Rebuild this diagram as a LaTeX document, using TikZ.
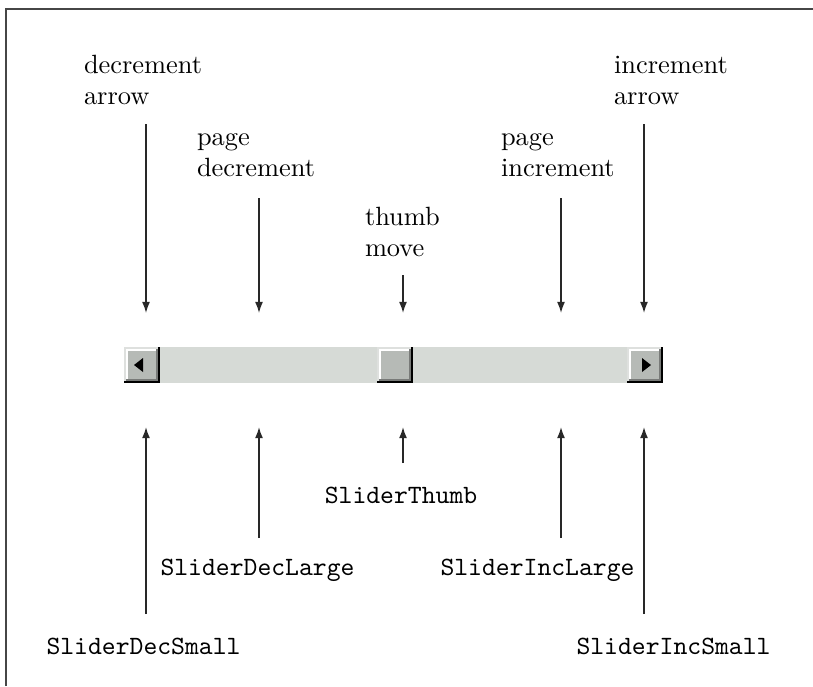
\documentclass[tikz,border=0pt]{standalone}
\usetikzlibrary{arrows.meta}
\definecolor{troughc}{RGB}{214,218,214}
\definecolor{btnface}{RGB}{182,186,182}
\definecolor{btnlight}{RGB}{222,224,222}
\definecolor{btndark}{RGB}{120,122,120}
\definecolor{framec}{RGB}{70,70,70}
\definecolor{arrc}{RGB}{40,40,40}
\begin{document}
\begin{tikzpicture}[x=0.3788pt,y=-0.3788pt,
  lbl/.style={inner sep=0pt,outer sep=0pt,anchor=base west},
  ttlbl/.style={inner sep=0pt,outer sep=0pt,font=\ttfamily},
  arr/.style={draw=arrc,line width=0.55pt,-{Latex[length=4.2pt,width=3pt]}},
  framestyle/.style={draw=framec,line width=0.5pt}]
\useasboundingbox (0,0) rectangle (813,686);
% frame (open at right and bottom)
\draw[framestyle] (6,686) -- (6,9) -- (813,9);

% scrollbar trough
\fill[troughc] (124,347) rectangle (663,383);
% buttons
\foreach \xa in {124,377,627}{
  \fill[black] (\xa,347) rectangle ++(36,36);
  \fill[btnlight] (\xa,347) rectangle ++(33.8,33.8);
  \fill[btndark] (\xa+2.2,349.2) rectangle ++(31.6,31.6);
  \fill[white] (\xa+2.2,349.2) rectangle ++(29.4,29.4);
  \fill[btnface] (\xa+4.4,351.4) rectangle ++(27.2,27.2);
}
\fill[black] (134,365) -- (143,358) -- (143,372) -- cycle;
\fill[black] (651,365) -- (642,358) -- (642,372) -- cycle;

% top labels
\node[lbl] (decarrow) at (84,73) {\begin{tabular}[t]{@{}l@{}}decrement\\arrow\end{tabular}};
\node[lbl] (pagedec) at (197,145) {\begin{tabular}[t]{@{}l@{}}page\\decrement\end{tabular}};
\node[lbl] (thumbmove) at (365,225) {\begin{tabular}[t]{@{}l@{}}thumb\\move\end{tabular}};
\node[lbl] (pageinc) at (501,145) {\begin{tabular}[t]{@{}l@{}}page\\increment\end{tabular}};
\node[lbl] (incarrow) at (614,73) {\begin{tabular}[t]{@{}l@{}}increment\\arrow\end{tabular}};

% bottom labels
\node[ttlbl,anchor=base] (sthumb) at (401,503) {SliderThumb};
\node[ttlbl,anchor=base west] (sdeclarge) at (160.5,575) {SliderDecLarge};
\node[ttlbl,anchor=base west] (sinclarge) at (440.5,575) {SliderIncLarge};
\node[ttlbl,anchor=base west] (sdecsmall) at (46.5,654) {SliderDecSmall};
\node[ttlbl,anchor=base west] (sincsmall) at (576.5,654) {SliderIncSmall};

% arrow coordinates (top)
\coordinate (t1a) at (146,124); \coordinate (t1b) at (146,313);
\coordinate (t2a) at (259,198); \coordinate (t2b) at (259,313);
\coordinate (t3a) at (403,275); \coordinate (t3b) at (403,313);
\coordinate (t4a) at (561,198); \coordinate (t4b) at (561,313);
\coordinate (t5a) at (644,124); \coordinate (t5b) at (644,313);
% arrow coordinates (bottom)
\coordinate (b1a) at (146,614); \coordinate (b1b) at (146,427);
\coordinate (b2a) at (259,538); \coordinate (b2b) at (259,427);
\coordinate (b3a) at (403,463); \coordinate (b3b) at (403,427);
\coordinate (b4a) at (561,538); \coordinate (b4b) at (561,427);
\coordinate (b5a) at (644,614); \coordinate (b5b) at (644,427);

\foreach \i in {1,...,5}{
  \draw[arr] (t\i a) -- (t\i b);
  \draw[arr] (b\i a) -- (b\i b);
}
\end{tikzpicture}
\end{document}
